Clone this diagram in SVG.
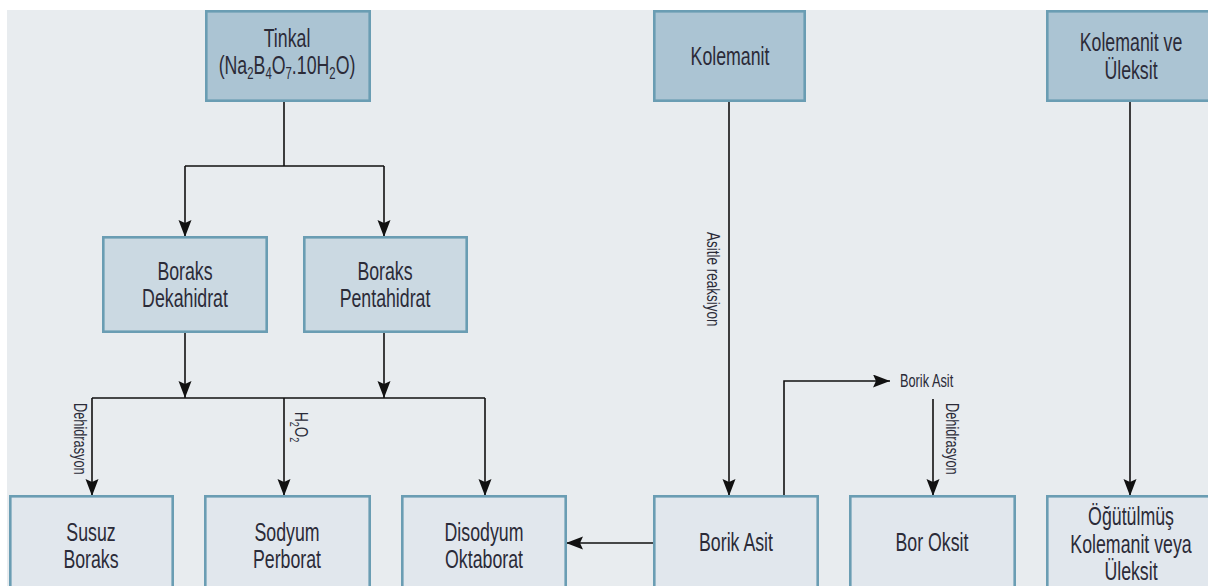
<svg xmlns="http://www.w3.org/2000/svg" width="1208" height="586" viewBox="0 0 1208 586">
<style>
.bg{fill:#e8ecef}
.box{stroke:#6a9db3;stroke-width:2.6}
.b1{fill:#abc4d3}
.b2{fill:#cbd9e2}
.b3{fill:#e1e7ed}
.t{font-family:"Liberation Sans",Arial,sans-serif;font-size:25px;fill:#2b2b38;text-anchor:middle}
.s{font-family:"Liberation Sans",Arial,sans-serif;font-size:18px;fill:#2b2b38}
.sub{font-size:16px}
.ssub{font-size:12px}
.c{fill:none;stroke:#111;stroke-width:1.6}
</style>
<defs>
<marker id="ah" markerUnits="userSpaceOnUse" markerWidth="18" markerHeight="14" refX="17" refY="6.5" orient="auto">
<path d="M0,0 L17,6.5 L0,13 L3,6.5 z" fill="#111"/>
</marker>
</defs>
<rect x="0" y="0" width="1208" height="586" fill="#ffffff"/>
<rect class="bg" x="7" y="10" width="1201" height="576"/>

<g id="connectors">
<path class="c" d="M284,102 V166 M185,166 H384"/>
<path class="c" d="M185,166 V237" marker-end="url(#ah)"/>
<path class="c" d="M384,166 V237" marker-end="url(#ah)"/>
<path class="c" d="M185,332 V398" marker-end="url(#ah)"/>
<path class="c" d="M384,332 V398" marker-end="url(#ah)"/>
<path class="c" d="M92,398 H485"/>
<path class="c" d="M92,398 V496" marker-end="url(#ah)"/>
<path class="c" d="M284,398 V496" marker-end="url(#ah)"/>
<path class="c" d="M485,398 V496" marker-end="url(#ah)"/>
<path class="c" d="M729,102 V496" marker-end="url(#ah)"/>
<path class="c" d="M1130,102 V496" marker-end="url(#ah)"/>
<path class="c" d="M784,496 V381 H890" marker-end="url(#ah)"/>
<path class="c" d="M933,399 V496" marker-end="url(#ah)"/>
<path class="c" d="M654,543 H566" marker-end="url(#ah)"/>
<text class="s" transform="translate(74,403) rotate(90) scale(0.71,1)">Dehidrasyon</text>
<text class="s" transform="translate(295,412) rotate(90) scale(0.75,1)">H<tspan class="ssub" dy="5">2</tspan><tspan dy="-5">O</tspan><tspan class="ssub" dy="5">2</tspan></text>
<text class="s" transform="translate(707,232) rotate(90) scale(0.75,1)" font-size="17">Asitle reaksiyon</text>
<text class="s" transform="translate(900,387) scale(0.71,1)">Borik Asit</text>
<text class="s" transform="translate(946,403) rotate(90) scale(0.71,1)">Dehidrasyon</text>
</g>

<g id="tinkal">
<rect class="box b1" x="206.3" y="11.3" width="163.4" height="89.4"/>
<text class="t" transform="translate(287,47) scale(0.71,1)">Tinkal</text>
<text class="t" transform="translate(287,74) scale(0.71,1)">(Na<tspan class="sub" dy="5">2</tspan><tspan dy="-5">B</tspan><tspan class="sub" dy="5">4</tspan><tspan dy="-5">O</tspan><tspan class="sub" dy="5">7</tspan><tspan dy="-5">.10H</tspan><tspan class="sub" dy="5">2</tspan><tspan dy="-5">O)</tspan></text>
</g>
<g id="kolemanit">
<rect class="box b1" x="654.3" y="11.3" width="150.4" height="89.4"/>
<text class="t" transform="translate(730,65) scale(0.71,1)">Kolemanit</text>
</g>
<g id="kolemanit-uleksit">
<rect class="box b1" x="1047.3" y="11.3" width="170" height="89.4"/>
<text class="t" transform="translate(1131,51) scale(0.71,1)">Kolemanit ve</text>
<text class="t" transform="translate(1131,79) scale(0.71,1)">Üleksit</text>
</g>

<g id="boraks-dekahidrat">
<rect class="box b2" x="103.3" y="237.3" width="163.4" height="94.4"/>
<text class="t" transform="translate(185,280) scale(0.71,1)">Boraks</text>
<text class="t" transform="translate(185,307) scale(0.71,1)">Dekahidrat</text>
</g>
<g id="boraks-pentahidrat">
<rect class="box b2" x="304.3" y="237.3" width="162.4" height="94.4"/>
<text class="t" transform="translate(385,280) scale(0.71,1)">Boraks</text>
<text class="t" transform="translate(385,307) scale(0.71,1)">Pentahidrat</text>
</g>

<g id="susuz-boraks">
<rect class="box b3" x="10.3" y="496.3" width="162.4" height="100"/>
<text class="t" transform="translate(91,541) scale(0.71,1)">Susuz</text>
<text class="t" transform="translate(91,568) scale(0.71,1)">Boraks</text>
</g>
<g id="sodyum-perborat">
<rect class="box b3" x="205.3" y="496.3" width="164.4" height="100"/>
<text class="t" transform="translate(287,541) scale(0.71,1)">Sodyum</text>
<text class="t" transform="translate(287,568) scale(0.71,1)">Perborat</text>
</g>
<g id="disodyum-oktaborat">
<rect class="box b3" x="402.3" y="496.3" width="163.4" height="100"/>
<text class="t" transform="translate(484,541) scale(0.71,1)">Disodyum</text>
<text class="t" transform="translate(484,568) scale(0.71,1)">Oktaborat</text>
</g>
<g id="borik-asit">
<rect class="box b3" x="654.3" y="496.3" width="163.4" height="100"/>
<text class="t" transform="translate(736,551) scale(0.71,1)">Borik Asit</text>
</g>
<g id="bor-oksit">
<rect class="box b3" x="850.3" y="496.3" width="164.4" height="100"/>
<text class="t" transform="translate(932,551) scale(0.71,1)">Bor Oksit</text>
</g>
<g id="ogutulmus">
<rect class="box b3" x="1047.3" y="496.3" width="170" height="100"/>
<text class="t" transform="translate(1131,525) scale(0.71,1)">Öğütülmüş</text>
<text class="t" transform="translate(1131,553) scale(0.71,1)">Kolemanit veya</text>
<text class="t" transform="translate(1131,580) scale(0.71,1)">Üleksit</text>
</g>
</svg>
